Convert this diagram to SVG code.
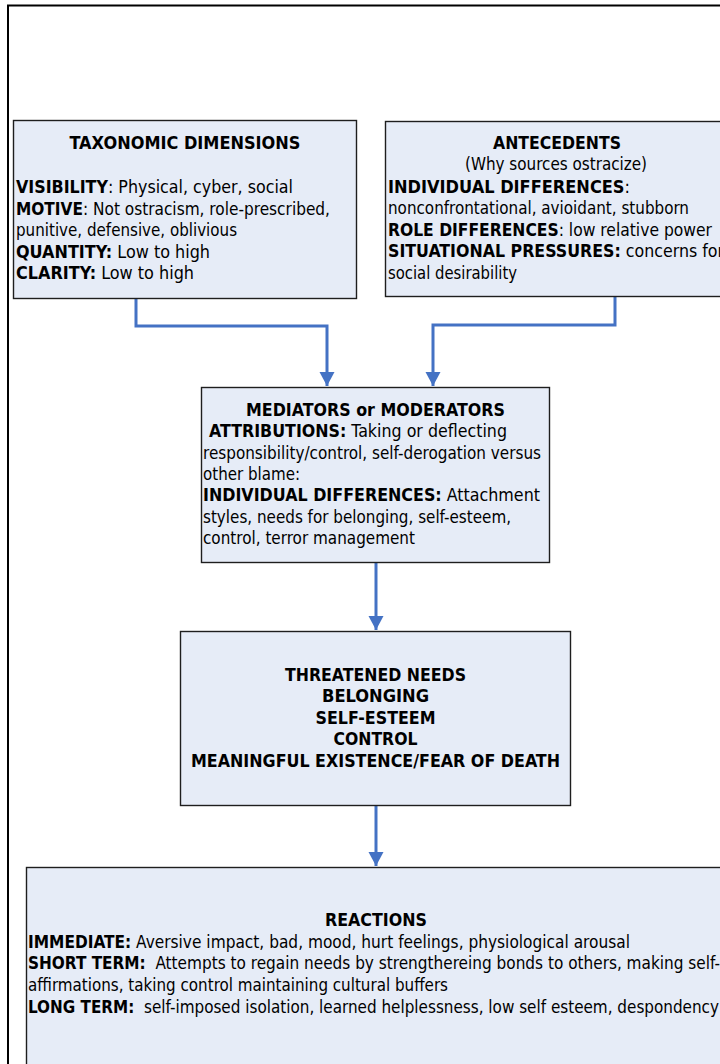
<svg xmlns="http://www.w3.org/2000/svg" width="720" height="1064" viewBox="0 0 720 1064">
  <style>
    .box { fill: #E6ECF7; stroke: #1e1e1e; stroke-width: 1.4; }
    .t { font-family: "DejaVu Sans Condensed", "DejaVu Sans", sans-serif; font-size: 17px; fill: #000; }
    .b { font-weight: bold; }
    .c { text-anchor: middle; }
    .link { fill: none; stroke: #4472C4; stroke-width: 3; }
  </style>
  <defs>
    <marker id="arrow" markerUnits="userSpaceOnUse" markerWidth="16" markerHeight="16" refX="14" refY="7.5" orient="auto">
      <path d="M0,0 L14,7.5 L0,15 Z" fill="#4472C4"/>
    </marker>
  </defs>

  <rect x="0" y="0" width="720" height="1064" fill="#fff"/>
  <!-- page frame -->
  <rect x="8" y="5.5" width="800" height="1100" fill="none" stroke="#000" stroke-width="2"/>

  <g id="connectors">
    <path class="link" d="M136 299 V326 H327 V386" marker-end="url(#arrow)"/>
    <path class="link" d="M615 297 V325 H433 V386" marker-end="url(#arrow)"/>
    <path class="link" d="M376 563 V630" marker-end="url(#arrow)"/>
    <path class="link" d="M376 806 V866" marker-end="url(#arrow)"/>
  </g>

  <g id="taxonomic">
    <rect class="box" x="13.5" y="120.5" width="343" height="178"/>
    <text class="t b c" x="185" y="149" textLength="231" lengthAdjust="spacingAndGlyphs">TAXONOMIC DIMENSIONS</text>
    <text class="t" x="16" y="193" textLength="277" lengthAdjust="spacingAndGlyphs"><tspan class="b">VISIBILITY</tspan>: Physical, cyber, social</text>
    <text class="t" x="16" y="215" textLength="314" lengthAdjust="spacingAndGlyphs"><tspan class="b">MOTIVE</tspan>: Not ostracism, role-prescribed,</text>
    <text class="t" x="16" y="236" textLength="221" lengthAdjust="spacingAndGlyphs">punitive, defensive, oblivious</text>
    <text class="t" x="16" y="258" textLength="194" lengthAdjust="spacingAndGlyphs"><tspan class="b">QUANTITY:</tspan> Low to high</text>
    <text class="t" x="16" y="279" textLength="178" lengthAdjust="spacingAndGlyphs"><tspan class="b">CLARITY:</tspan> Low to high</text>
  </g>

  <g id="antecedents">
    <rect class="box" x="385.5" y="121.5" width="345" height="175"/>
    <text class="t b c" x="557" y="149" textLength="128" lengthAdjust="spacingAndGlyphs">ANTECEDENTS</text>
    <text class="t c" x="556" y="170" textLength="182" lengthAdjust="spacingAndGlyphs">(Why sources ostracize)</text>
    <text class="t" x="388" y="193" textLength="242" lengthAdjust="spacingAndGlyphs"><tspan class="b">INDIVIDUAL DIFFERENCES</tspan>:</text>
    <text class="t" x="388" y="214" textLength="301" lengthAdjust="spacingAndGlyphs">nonconfrontational, avioidant, stubborn</text>
    <text class="t" x="388" y="236" textLength="324" lengthAdjust="spacingAndGlyphs"><tspan class="b">ROLE DIFFERENCES</tspan>: low relative power</text>
    <text class="t" x="388" y="257" textLength="336" lengthAdjust="spacingAndGlyphs"><tspan class="b">SITUATIONAL PRESSURES:</tspan> concerns for</text>
    <text class="t" x="388" y="279" textLength="129" lengthAdjust="spacingAndGlyphs">social desirability</text>
  </g>

  <g id="mediators">
    <rect class="box" x="201.5" y="387.5" width="348" height="175"/>
    <text class="t b c" x="375.5" y="416" textLength="259" lengthAdjust="spacingAndGlyphs">MEDIATORS or MODERATORS</text>
    <text class="t" x="209" y="437" textLength="298" lengthAdjust="spacingAndGlyphs"><tspan class="b">ATTRIBUTIONS:</tspan> Taking or deflecting</text>
    <text class="t" x="203" y="459" textLength="338" lengthAdjust="spacingAndGlyphs">responsibility/control, self-derogation versus</text>
    <text class="t" x="203" y="480" textLength="97" lengthAdjust="spacingAndGlyphs">other blame:</text>
    <text class="t" x="203" y="501" textLength="337" lengthAdjust="spacingAndGlyphs"><tspan class="b">INDIVIDUAL DIFFERENCES:</tspan> Attachment</text>
    <text class="t" x="203" y="523" textLength="308" lengthAdjust="spacingAndGlyphs">styles, needs for belonging, self-esteem,</text>
    <text class="t" x="203" y="544" textLength="212" lengthAdjust="spacingAndGlyphs">control, terror management</text>
  </g>

  <g id="threatened-needs">
    <rect class="box" x="180.5" y="631.5" width="390" height="174"/>
    <text class="t b c" x="375.5" y="681" textLength="181" lengthAdjust="spacingAndGlyphs">THREATENED NEEDS</text>
    <text class="t b c" x="375.5" y="702" textLength="107" lengthAdjust="spacingAndGlyphs">BELONGING</text>
    <text class="t b c" x="375.5" y="724" textLength="120" lengthAdjust="spacingAndGlyphs">SELF-ESTEEM</text>
    <text class="t b c" x="375.5" y="745" textLength="84" lengthAdjust="spacingAndGlyphs">CONTROL</text>
    <text class="t b c" x="375.5" y="767" textLength="369" lengthAdjust="spacingAndGlyphs">MEANINGFUL EXISTENCE/FEAR OF DEATH</text>
  </g>

  <g id="reactions">
    <rect class="box" x="26.5" y="867.5" width="710" height="210"/>
    <text class="t b c" x="376" y="926" textLength="102" lengthAdjust="spacingAndGlyphs">REACTIONS</text>
    <text class="t" x="28" y="948" textLength="602" lengthAdjust="spacingAndGlyphs"><tspan class="b">IMMEDIATE:</tspan> Aversive impact, bad, mood, hurt feelings, physiological arousal</text>
    <text class="t" x="28" y="969" textLength="692" lengthAdjust="spacingAndGlyphs" xml:space="preserve"><tspan class="b">SHORT TERM:</tspan>  Attempts to regain needs by strengthereing bonds to others, making self-</text>
    <text class="t" x="28" y="991" textLength="420" lengthAdjust="spacingAndGlyphs">affirmations, taking control maintaining cultural buffers</text>
    <text class="t" x="28" y="1013" textLength="691" lengthAdjust="spacingAndGlyphs" xml:space="preserve"><tspan class="b">LONG TERM:</tspan>  self-imposed isolation, learned helplessness, low self esteem, despondency</text>
  </g>
</svg>
